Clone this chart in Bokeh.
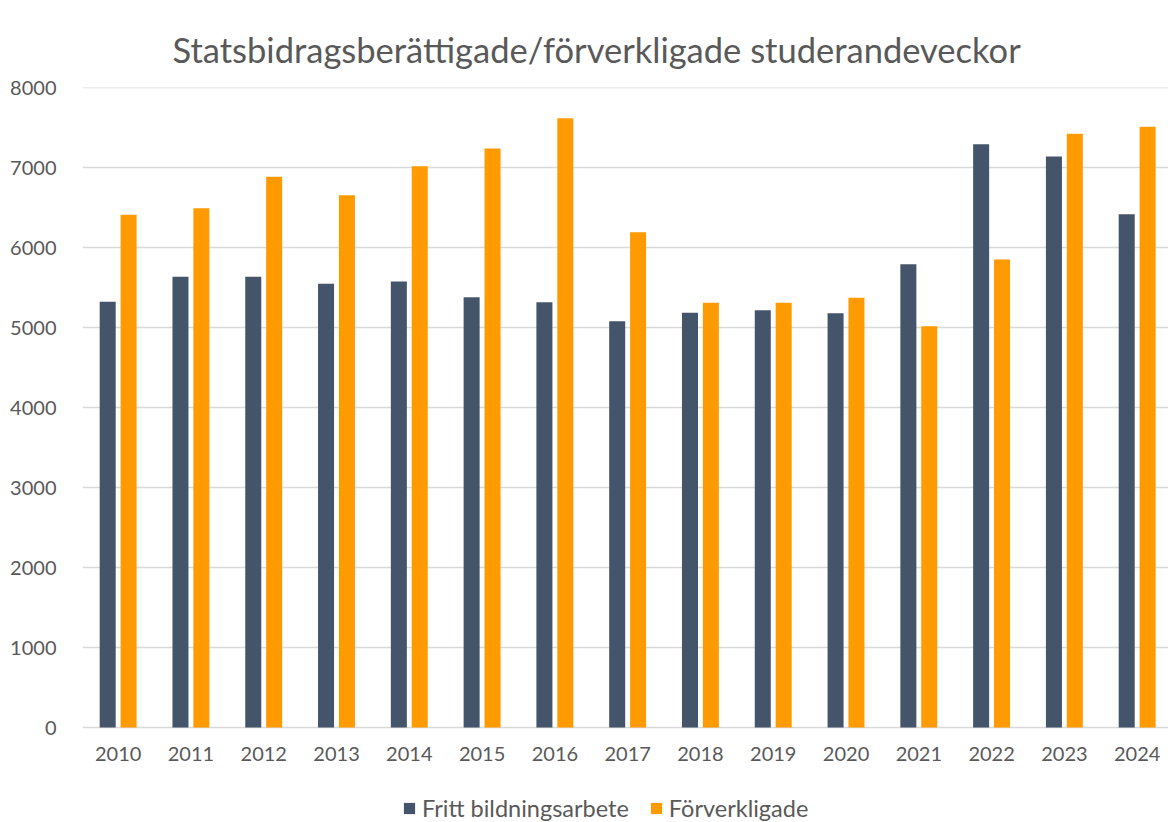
from bokeh.plotting import figure
from bokeh.models import (Range1d, FixedTicker, Legend, LegendItem, Title,
                          ColumnDataSource)
from bokeh.core.properties import value
from bokeh.transform import dodge
from bokeh.embed import file_html
from bokeh.resources import INLINE

years = ["2010", "2011", "2012", "2013", "2014", "2015", "2016", "2017",
         "2018", "2019", "2020", "2021", "2022", "2023", "2024"]
fritt = [5321, 5634, 5634, 5546, 5575, 5379, 5317, 5079,
         5184, 5217, 5179, 5792, 7292, 7138, 6417]
forverkligade = [6409, 6492, 6884, 6654, 7017, 7238, 7617, 6192,
                 5309, 5309, 5371, 5017, 5850, 7421, 7509]
y_ticks = [0, 1000, 2000, 3000, 4000, 5000, 6000, 7000, 8000]

title_text = "Statsbidragsberättigade/förverkligade studerandeveckor"
series_names = ["Fritt bildningsarbete", "Förverkligade"]
colors = ["#44546A", "#FF9A00"]
text_color = "#595959"
grid_color = "#D9D9D9"
FONT = "Lato"

idx = list(range(len(years)))
zeros = [0] * len(years)
src = ColumnDataSource(dict(x=idx, fritt=fritt, forv=forverkligade,
                            base=zeros, year=years))

# the frame reaches the bottom of the canvas so that the category labels and
# the legend below the zero line stay inside the drawable area
p = figure(width=1168, height=822, output_backend="svg", toolbar_location=None,
           x_axis_type=None,
           x_range=Range1d(-0.49, 14.43), y_range=Range1d(-1187.5, 8000.5),
           min_border_left=82, min_border_right=0, min_border_top=87,
           min_border_bottom=0, outline_line_color=None)

r1 = p.vbar(x=dodge("x", -0.144, range=p.x_range), top="fritt", width=0.22,
            source=src, fill_color=colors[0], line_color=None)
r2 = p.vbar(x=dodge("x", 0.143, range=p.x_range), top="forv", width=0.22,
            source=src, fill_color=colors[1], line_color=None)

p.ygrid.grid_line_color = grid_color
p.ygrid.grid_line_width = 1.5
p.ygrid.ticker = FixedTicker(ticks=y_ticks)

p.yaxis.ticker = FixedTicker(ticks=y_ticks)
p.yaxis.axis_line_color = None
p.yaxis.major_tick_line_color = None
p.yaxis.minor_tick_line_color = None
p.yaxis.major_label_standoff = 20
p.yaxis.major_label_text_font = FONT
p.yaxis.major_label_text_font_size = "20px"
p.yaxis.major_label_text_color = text_color

# category (year) labels under the zero line
p.text(x="x", y="base", text="year", source=src, y_offset=19,
       text_align="center", text_baseline="top",
       text_font=value(FONT), text_font_size=value("20px"),
       text_color=text_color)

p.add_layout(Title(text=title_text, align="left", offset=90, standoff=35,
                   text_font=FONT, text_font_size="34.5px",
                   text_font_style="normal", text_color=text_color), "above")

legend = Legend(items=[LegendItem(label=series_names[0], renderers=[r1]),
                       LegendItem(label=series_names[1], renderers=[r2])],
                orientation="horizontal", location=(320, 0),
                glyph_width=14, glyph_height=14, label_standoff=6, spacing=20,
                padding=0, margin=0, border_line_color=None,
                background_fill_alpha=0, label_text_font=FONT,
                label_text_font_size="23.5px", label_text_color=text_color)
p.add_layout(legend)

open("out.html", "w").write(file_html(p, INLINE))
